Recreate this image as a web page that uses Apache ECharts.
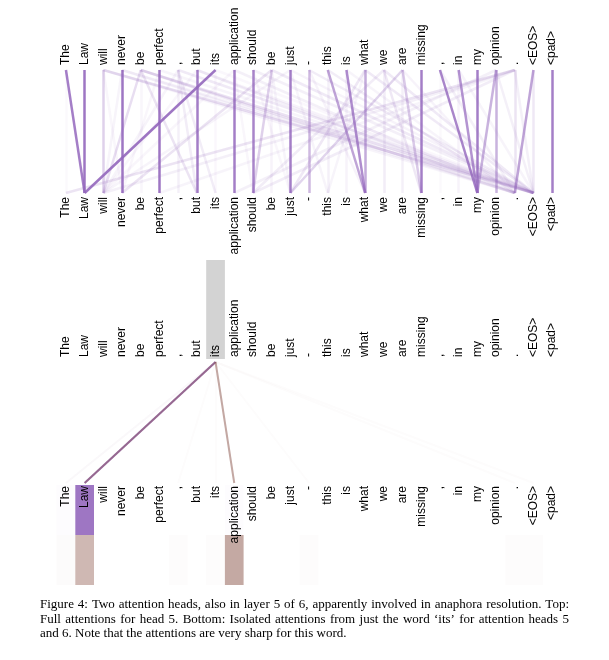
<!DOCTYPE html>
<html><head><meta charset="utf-8">
<script src="https://cdn.jsdelivr.net/npm/echarts@6.0.0/dist/echarts.min.js"></script>
<style>html,body{margin:0;padding:0;background:#fff}#c{width:609px;height:660px}</style>
</head><body><div id="c"></div>
<script>
// ---- data ----
const tokens = ["The","Law","will","never","be","perfect",",","but","its","application","should","be","just","-","this","is","what","we","are","missing",",","in","my","opinion",".","<EOS>","<pad>"];

// Top panel: head 5 attention links (from top token -> to bottom token, weight)
const topFrom   = [1,3,5,7,9,10,12,19,22,26, 16,13,23,2,6,24,25,14,15,17,18,11,4,21,8,0,20,
                   0,8,14,15,20,21,23,25,18,11,4,11,18,16,24,6,4,6,17,24,23,24,17,13,16,12,5,3,2,11,10,9,
                   2,4,6,10,11,13,16,17,12,7,3,5,8,4,7,14,9,3,2,15,18,20,21,23,24,
                   6,7,9,12,24];
const topTo     = [1,3,5,7,9,10,12,19,22,26, 16,13,23,2,6,24,25,14,15,17,18,11,4,21,8,0,20,
                   1,1,16,16,22,22,22,24,19,10,2,3,12,12,0,8,7,7,10,10,9,2,19,16,14,14,3,2,3,12,12,10,
                   25,25,25,25,25,25,25,25,25,25,25,25,25,24,24,24,24,24,24,24,24,24,25,25,25,
                   2,2,2,2,5];
const topWeight = [.9,.9,.9,.85,.85,.8,.85,.85,.85,.85, .55,.45,.5,.3,.1,.18,.15,.1,.08,.12,.1,.08,.06,.08,.05,.04,.04,
                   .85,.9,.6,.75,.8,.7,.5,.6,.35,.3,.22,.18,.28,.15,.18,.12,.18,.12,.12,.12,.1,.1,.15,.08,.07,.07,.06,.07,.06,.07,.06,.06,
                   .22,.2,.14,.1,.14,.12,.14,.14,.08,.08,.07,.07,.05,.16,.1,.12,.1,.07,.07,.07,.08,.1,.07,.1,.1,
                   .07,.06,.06,.07,.07];

// Bottom panel: attentions from the query word 'its'
const queryIndex = 8;
const head5Attn = [.02,.9,0,0,0,0,0,0,0,.02,0,0,0,0,0,0,0,0,0,0,0,0,0,0,0,0,0];
const head6Attn = [.025,.42,0,0,0,0,.015,0,.015,.51,0,0,0,.015,0,0,0,0,0,0,0,0,0,0,.015,.015,0];

const captionLines = [
  "Figure 4: Two attention heads, also in layer 5 of 6, apparently involved in anaphora resolution. Top:",
  "Full attentions for head 5. Bottom: Isolated attentions from just the word \u2018its\u2019 for attention heads 5",
  "and 6. Note that the attentions are very sharp for this word."
];

// ---- layout / style ----
const HEAD5 = '#9467bd', HEAD6 = '#8c564b';
const cellW = 18.7, left = 56.6, gridW = cellW * tokens.length;
const labelFont = 'Liberation Sans, Arial, sans-serif';

const grids = [
  {left, width: gridW, top: 70,  height: 123},
  {left, width: gridW, top: 362, height: 121},
  {left, width: gridW, top: 260, height: 99},
  {left, width: gridW, top: 485, height: 50},
  {left, width: gridW, top: 535, height: 50}
];

function labelAxis(gridIndex, position, margin) {
  return {type: 'category', gridIndex, position, data: tokens, boundaryGap: true, z: 10,
    axisLine: {show: false}, axisTick: {show: false}, splitLine: {show: false},
    axisLabel: {show: true, interval: 0, rotate: 90, margin, fontSize: 12, fontFamily: labelFont, color: '#000'}};
}
function hiddenAxis(gridIndex) {
  return {type: 'category', gridIndex, data: tokens, boundaryGap: true, show: false};
}
const xAxis = [labelAxis(0,'top',5), labelAxis(0,'bottom',4), labelAxis(1,'top',5), labelAxis(1,'bottom',3),
               hiddenAxis(2), hiddenAxis(3), hiddenAxis(4)];
const yAxis = grids.map((g, i) => ({type: 'value', gridIndex: i, min: 0, max: 1, show: false}));

const series = [];
series.push({type: 'lines', coordinateSystem: 'cartesian2d', xAxisIndex: 0, yAxisIndex: 0, silent: true,
  lineStyle: {color: HEAD5, width: 2.5, opacity: 1, curveness: 0},
  data: topFrom.map((f, k) => ({coords: [[f, 1], [topTo[k], 0]], lineStyle: {opacity: topWeight[k]}}))});

[[head5Attn, HEAD5], [head6Attn, HEAD6]].forEach(([att, col]) => {
  series.push({type: 'lines', coordinateSystem: 'cartesian2d', xAxisIndex: 2, yAxisIndex: 1, silent: true,
    lineStyle: {color: col, width: 2, opacity: 1, curveness: 0},
    data: att.map((a, j) => ({a, j})).filter(d => d.a > 0)
      .map(d => ({coords: [[queryIndex, 1], [d.j, 0]], lineStyle: {opacity: d.a}}))});
});

series.push({type: 'bar', xAxisIndex: 4, yAxisIndex: 2, silent: true, barWidth: '100%', barGap: '0%',
  itemStyle: {color: '#d3d3d3'}, data: tokens.map((t, i) => i === queryIndex ? 1 : 0)});
series.push({type: 'bar', xAxisIndex: 5, yAxisIndex: 3, silent: true, barWidth: '100%', barGap: '0%',
  itemStyle: {color: HEAD5}, data: head5Attn.map(a => ({value: a > 0 ? 1 : 0, itemStyle: {opacity: a}}))});
series.push({type: 'bar', xAxisIndex: 6, yAxisIndex: 4, silent: true, barWidth: '100%', barGap: '0%',
  itemStyle: {color: HEAD6}, data: head6Attn.map(a => ({value: a > 0 ? 1 : 0, itemStyle: {opacity: a}}))});

// caption (justified lines)
const capFont = '13px "Liberation Serif", "Times New Roman", serif';
const capLeft = 40, capRight = 569, capY0 = 605, capDy = 14.5;
const ctx = document.createElement('canvas').getContext('2d');
ctx.font = capFont;
const graphic = [];
captionLines.forEach((line, li) => {
  const words = line.split(' ');
  const widths = words.map(w => ctx.measureText(w).width);
  const total = widths.reduce((a, b) => a + b, 0);
  const justified = li < captionLines.length - 1;
  const gap = justified ? (capRight - capLeft - total) / (words.length - 1) : ctx.measureText(' ').width;
  let x = capLeft;
  const y = capY0 + li * capDy;
  words.forEach((w, i) => {
    graphic.push({type: 'text', x, y, silent: true,
      style: {text: w, font: capFont, fill: '#000', align: 'left', verticalAlign: 'middle', textAlign: 'left', textVerticalAlign: 'middle'}});
    x += widths[i] + gap;
  });
});

const chart = echarts.init(document.getElementById('c'), null, {renderer: 'canvas'});
chart.setOption({animation: false, backgroundColor: '#fff', grid: grids, xAxis, yAxis, series, graphic});
</script></body></html>
